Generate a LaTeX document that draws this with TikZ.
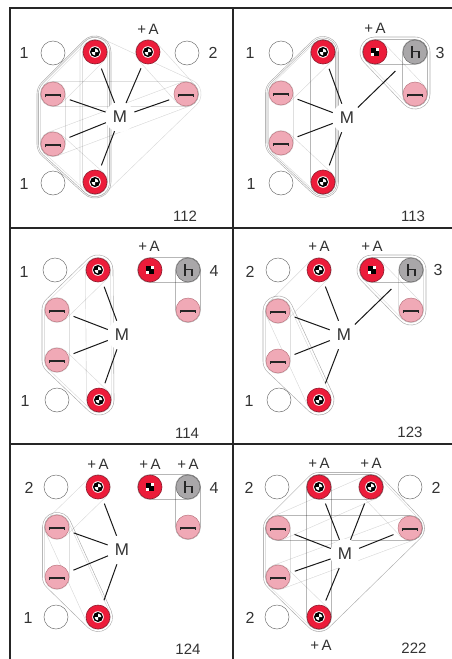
\documentclass[tikz,border=0pt]{standalone}
\usepackage{fontspec}
\setmainfont{Liberation Sans}
\usetikzlibrary{backgrounds}
\definecolor{dred}{HTML}{EC1C3A}
\definecolor{dredline}{HTML}{8E1A2C}
\definecolor{dpink}{HTML}{F0A9B6}
\definecolor{dgray}{HTML}{A9A7A9}
\definecolor{dtext}{HTML}{333333}
\tikzset{
  disc/.style={circle,minimum size=24pt,inner sep=0pt},
  emptydisc/.style={disc,draw=black!55,line width=.5pt},
  reddisc/.style={disc,fill=dred,draw=dredline,line width=.6pt,path picture={
    \coordinate (pcc) at (path picture bounding box.center);
    \fill[white] (pcc) circle (5.8pt);
    \fill[black] (pcc) circle (5pt);
    \fill[white] (pcc) -- ++(3.4pt,0pt) arc (0:90:3.4pt) -- cycle;
    \fill[white] (pcc) -- ++(-3.4pt,0pt) arc (180:270:3.4pt) -- cycle;}},
  squaredisc/.style={disc,fill=dred,draw=dredline,line width=.6pt,path picture={
    \coordinate (pcc) at (path picture bounding box.center);
    \fill[white] ([shift={(-4pt,-4pt)}]pcc) rectangle ([shift={(4pt,4pt)}]pcc);
    \fill[black] ([shift={(-4pt,4pt)}]pcc) rectangle ([shift={(.6pt,-.6pt)}]pcc);
    \fill[black] ([shift={(4pt,-4pt)}]pcc) rectangle ([shift={(-.6pt,.6pt)}]pcc);}},
  pinkdisc/.style={disc,fill=dpink,draw=dredline!60,line width=.5pt,path picture={
    \coordinate (pcc) at (path picture bounding box.center);
    \draw[black!85,line width=1.2pt] ([shift={(-7.5pt,-3pt)}]pcc) -- ([shift={(-7.5pt,-1pt)}]pcc)
      -- ([shift={(7.5pt,-1pt)}]pcc) -- ([shift={(7.5pt,-3pt)}]pcc);}},
  graydisc/.style={disc,fill=dgray,draw=black!60,line width=.5pt,path picture={
    \coordinate (pcc) at (path picture bounding box.center);
    \draw[black!85,line width=1.1pt] ([shift={(-3pt,6pt)}]pcc) -- ([shift={(-3pt,-5.5pt)}]pcc);
    \draw[black!85,line width=1.1pt] ([shift={(-3pt,.5pt)}]pcc) -- ([shift={(4pt,.5pt)}]pcc) -- ([shift={(4pt,-5.5pt)}]pcc);}},
  lab/.style={text=dtext,font=\fontsize{15}{15}\selectfont,inner sep=0pt},
  numlab/.style={text=dtext,font=\fontsize{16}{16}\selectfont,inner sep=0pt},
  idlab/.style={text=dtext,font=\fontsize{15}{15}\selectfont,inner sep=0pt},
  mnode/.style={circle,minimum size=30pt,inner sep=0pt,fill=white,text=dtext,font=\fontsize{17}{17}\selectfont},
  wire/.style={draw=black!90,line width=1pt,shorten <=5.5pt},
  farwire/.style={wire,shorten <=15pt},
  frameline/.style={draw=black!85,line width=1.4pt}
}
% hull: offset outline of a path, radius #1, colour #2
\newcommand{\hullp}[3]{%
  \begin{scope}[transparency group,blend mode=multiply]
    \draw[#2,line width=2*#1*1pt+.6pt,line join=round,line cap=round] #3;
    \draw[white,fill=white,line width=2*#1*1pt-.6pt,line join=round,line cap=round] #3;
  \end{scope}}
\newcommand{\faintc}{black!14}
\newcommand{\midc}{black!32}
\begin{document}
\begin{tikzpicture}[x=1pt,y=-1pt]
\useasboundingbox (0,0) rectangle (452,659);
% frames
\coordinate (f1) at (10,8); \coordinate (f2) at (452,8);
\coordinate (f3) at (10,659); \coordinate (f4) at (233,8); \coordinate (f5) at (233,659);
\coordinate (f6) at (10,228); \coordinate (f7) at (452,228);
\coordinate (f8) at (10,444); \coordinate (f9) at (452,444);
\draw[frameline] (f3) -- (f1) -- (f2);
\draw[frameline] (f4) -- (f5);
\draw[frameline] (f6) -- (f7);
\draw[frameline] (f8) -- (f9);

%%% 112
\node[emptydisc] (ae1) at (53,53) {};
\node[emptydisc] (ae2) at (53,183) {};
\node[emptydisc] (ae3) at (187,53) {};
\node[reddisc] (at) at (95,52) {};
\node[reddisc] (aa) at (148,52) {};
\node[reddisc] (ab) at (95,182) {};
\node[pinkdisc] (alu) at (53,94) {};
\node[pinkdisc] (all) at (53,144) {};
\node[pinkdisc] (aru) at (186,94) {};
\node[mnode] (am) at (120,117) {M};
\node[numlab] (al1) at (24,53) {1};
\node[numlab] (al2) at (24,184) {1};
\node[numlab] (al3) at (213,53) {2};
\node[lab] (al4) at (148,29) {+\,A};
\node[idlab] (al5) at (185,216) {112};
\draw[wire] (at) -- (am); \draw[wire] (aa) -- (am); \draw[wire] (alu) -- (am);
\draw[wire] (all) -- (am); \draw[wire] (aru) -- (am); \draw[wire] (ab) -- (am);
\begin{scope}[on background layer]
\hullp{16}{\midc}{(at.center) -- (alu.center) -- (all.center) -- (ab.center) -- cycle}
\hullp{14.5}{\midc}{(at.center) -- (alu.center) -- (all.center) -- (ab.center) -- cycle}
\hullp{15}{\faintc}{(at.center) -- (aru.center) -- (ab.center) -- cycle}
\hullp{12.5}{\faintc}{(at.center) -- (ab.center)}
\hullp{12.5}{\faintc}{(alu.center) -- (aru.center)}
\hullp{12.5}{\faintc}{(all.center) -- (aru.center)}
\hullp{12.5}{\faintc}{(alu.center) -- (all.center)}
\hullp{12.5}{\faintc}{(aa.center) -- (aru.center)}
\hullp{12.5}{\faintc}{(at.center) -- (alu.center)}
\hullp{12.5}{\faintc}{(all.center) -- (ab.center)}
\end{scope}

%%% 113
\node[emptydisc] (be1) at (281,53) {};
\node[emptydisc] (be2) at (281,183) {};
\node[reddisc] (bt) at (323,52) {};
\node[reddisc] (bb) at (323,182) {};
\node[squaredisc] (bs) at (375,52) {};
\node[graydisc] (bg) at (415,52) {};
\node[pinkdisc] (bp) at (415,94) {};
\node[pinkdisc] (blu) at (281,93) {};
\node[pinkdisc] (bll) at (281,143) {};
\node[mnode] (bm) at (347,118) {M};
\node[numlab] (bl1) at (250,53) {1};
\node[numlab] (bl2) at (251,184) {1};
\node[numlab] (bl3) at (440,53) {3};
\node[lab] (bl4) at (375,28) {+\,A};
\node[idlab] (bl5) at (413,216) {113};
\draw[wire] (bt) -- (bm); \draw[wire] (blu) -- (bm); \draw[wire] (bll) -- (bm);
\draw[wire] (bb) -- (bm); \draw[farwire] (bg) -- (bm);
\begin{scope}[on background layer]
\hullp{15.5}{\midc}{(bt.center) -- (blu.center) -- (bll.center) -- (bb.center) -- cycle}
\hullp{14}{\midc}{(bt.center) -- (blu.center) -- (bll.center) -- (bb.center) -- cycle}
\hullp{12.5}{\midc}{(bt.center) -- (bb.center)}
\hullp{12.5}{\faintc}{(blu.center) -- (bll.center)}
\hullp{12.5}{\faintc}{(bt.center) -- (blu.center)}
\hullp{12.5}{\faintc}{(bll.center) -- (bb.center)}
\hullp{15}{\midc}{(bs.center) -- (bg.center) -- (bp.center) -- cycle}
\hullp{12.5}{\midc}{(bs.center) -- (bg.center)}
\hullp{12.5}{\midc}{(bg.center) -- (bp.center)}
\hullp{12.5}{\faintc}{(bs.center) -- (bp.center)}
\end{scope}

%%% 114
\node[emptydisc] (ce1) at (55,270) {};
\node[emptydisc] (ce2) at (57,400) {};
\node[reddisc] (ct) at (98,270) {};
\node[reddisc] (cb) at (99,400) {};
\node[squaredisc] (cs) at (150,270) {};
\node[graydisc] (cg) at (188,270) {};
\node[pinkdisc] (cp) at (188,310) {};
\node[pinkdisc] (clu) at (57,310) {};
\node[pinkdisc] (cll) at (57,360) {};
\node[mnode] (cm) at (122,335) {M};
\node[numlab] (cl1) at (24,272) {1};
\node[numlab] (cl2) at (25,401) {1};
\node[numlab] (cl3) at (214,271) {4};
\node[lab] (cl4) at (149,246) {+\,A};
\node[idlab] (cl5) at (187,433) {114};
\draw[wire] (ct) -- (cm); \draw[wire] (clu) -- (cm); \draw[wire] (cll) -- (cm); \draw[wire] (cb) -- (cm);
\begin{scope}[on background layer]
\hullp{15}{\midc}{(ct.center) -- (clu.center) -- (cll.center) -- (cb.center) -- cycle}
\hullp{12.5}{\faintc}{(ct.center) -- (cb.center)}
\hullp{12.5}{\faintc}{(clu.center) -- (cll.center)}
\hullp{12.5}{\faintc}{(ct.center) -- (clu.center)}
\hullp{12.5}{\faintc}{(cll.center) -- (cb.center)}
\hullp{12.5}{\midc}{(cs.center) -- (cg.center)}
\hullp{12.5}{\midc}{(cg.center) -- (cp.center)}
\end{scope}

%%% 123
\node[emptydisc] (de1) at (278,270) {};
\node[emptydisc] (de2) at (279,400) {};
\node[reddisc] (dt) at (319,270) {};
\node[reddisc] (db) at (319,400) {};
\node[squaredisc] (ds) at (372,270) {};
\node[graydisc] (dg) at (411,270) {};
\node[pinkdisc] (dp) at (411,310) {};
\node[pinkdisc] (dlu) at (278,311) {};
\node[pinkdisc] (dll) at (278,361) {};
\node[mnode] (dm) at (344,335) {M};
\node[numlab] (dl1) at (250,272) {2};
\node[numlab] (dl2) at (249,401) {1};
\node[numlab] (dl3) at (438,270) {3};
\node[lab] (dl4) at (319,246) {+\,A};
\node[lab] (dl5) at (372,246) {+\,A};
\node[idlab] (dl6) at (410,432) {123};
\draw[wire] (dt) -- (dm); \draw[wire] (dlu) -- (dm); \draw[wire] (dll) -- (dm);
\draw[wire] (db) -- (dm); \draw[farwire] (dg) -- (dm);
\begin{scope}[on background layer]
\hullp{15}{\midc}{(dlu.center) -- (dll.center) -- (db.center) -- cycle}
\hullp{12.5}{\faintc}{(dlu.center) -- (dll.center)}
\hullp{12.5}{\faintc}{(dt.center) -- (dlu.center)}
\hullp{12.5}{\faintc}{(dlu.center) -- (db.center)}
\hullp{15}{\midc}{(ds.center) -- (dg.center) -- (dp.center) -- cycle}
\hullp{12.5}{\midc}{(ds.center) -- (dg.center)}
\hullp{12.5}{\faintc}{(dg.center) -- (dp.center)}
\hullp{12.5}{\faintc}{(ds.center) -- (dp.center)}
\end{scope}

%%% 124
\node[emptydisc] (ee1) at (56,487) {};
\node[emptydisc] (ee2) at (56,617) {};
\node[reddisc] (et) at (98,487) {};
\node[reddisc] (eb) at (98,617) {};
\node[squaredisc] (es) at (150,487) {};
\node[graydisc] (eg) at (188,487) {};
\node[pinkdisc] (ep) at (188,527) {};
\node[pinkdisc] (elu) at (57,527) {};
\node[pinkdisc] (ell) at (57,577) {};
\node[mnode] (em) at (122,550) {M};
\node[numlab] (el1) at (29,488) {2};
\node[numlab] (el2) at (28,618) {1};
\node[numlab] (el3) at (214,488) {4};
\node[lab] (el4) at (98,464) {+\,A};
\node[lab] (el5) at (150,464) {+\,A};
\node[lab] (el6) at (188,464) {+\,A};
\node[idlab] (el7) at (188,649) {124};
\draw[wire] (et) -- (em); \draw[wire] (elu) -- (em); \draw[wire] (ell) -- (em); \draw[wire] (eb) -- (em);
\begin{scope}[on background layer]
\hullp{14.5}{\midc}{(elu.center) -- (ell.center) -- (eb.center) -- cycle}
\hullp{12.5}{\faintc}{(elu.center) -- (ell.center)}
\hullp{12.5}{\faintc}{(et.center) -- (elu.center)}
\hullp{12.5}{\faintc}{(elu.center) -- (eb.center)}
\hullp{12.5}{\midc}{(es.center) -- (eg.center)}
\hullp{12.5}{\midc}{(eg.center) -- (ep.center)}
\end{scope}

%%% 222
\node[emptydisc] (fe1) at (277,487) {};
\node[emptydisc] (fe2) at (277,617) {};
\node[emptydisc] (fe3) at (410,487) {};
\node[reddisc] (ft) at (319,487) {};
\node[reddisc] (fa) at (371,487) {};
\node[reddisc] (fb) at (319,617) {};
\node[pinkdisc] (flu) at (278,528) {};
\node[pinkdisc] (fru) at (410,528) {};
\node[pinkdisc] (fll) at (278,577) {};
\node[mnode] (fm) at (345,554) {M};
\node[numlab] (fl1) at (249,488) {2};
\node[numlab] (fl2) at (250,618) {2};
\node[numlab] (fl3) at (436,488) {2};
\node[lab] (fl4) at (319,463) {+\,A};
\node[lab] (fl5) at (371,463) {+\,A};
\node[lab] (fl6) at (321,645) {+\,A};
\node[idlab] (fl7) at (414,648) {222};
\draw[wire] (ft) -- (fm); \draw[wire] (fa) -- (fm); \draw[wire] (flu) -- (fm);
\draw[wire] (fll) -- (fm); \draw[wire] (fru) -- (fm); \draw[wire] (fb) -- (fm);
\begin{scope}[on background layer]
\hullp{14.5}{\midc}{(ft.center) -- (fa.center) -- (fru.center) -- (fb.center) -- (fll.center) -- (flu.center) -- cycle}
\hullp{12.5}{\midc}{(ft.center) -- (fa.center)}
\hullp{12.5}{\midc}{(ft.center) -- (fb.center)}
\hullp{12.5}{\faintc}{(flu.center) -- (fll.center)}
\hullp{12.5}{\midc}{(flu.center) -- (fru.center)}
\hullp{12.5}{\faintc}{(fll.center) -- (fru.center)}
\hullp{12.5}{\faintc}{(fa.center) -- (fru.center)}
\hullp{12.5}{\faintc}{(flu.center) -- (fa.center)}
\hullp{12.5}{\faintc}{(fll.center) -- (fb.center)}
\end{scope}
\end{tikzpicture}
\end{document}
